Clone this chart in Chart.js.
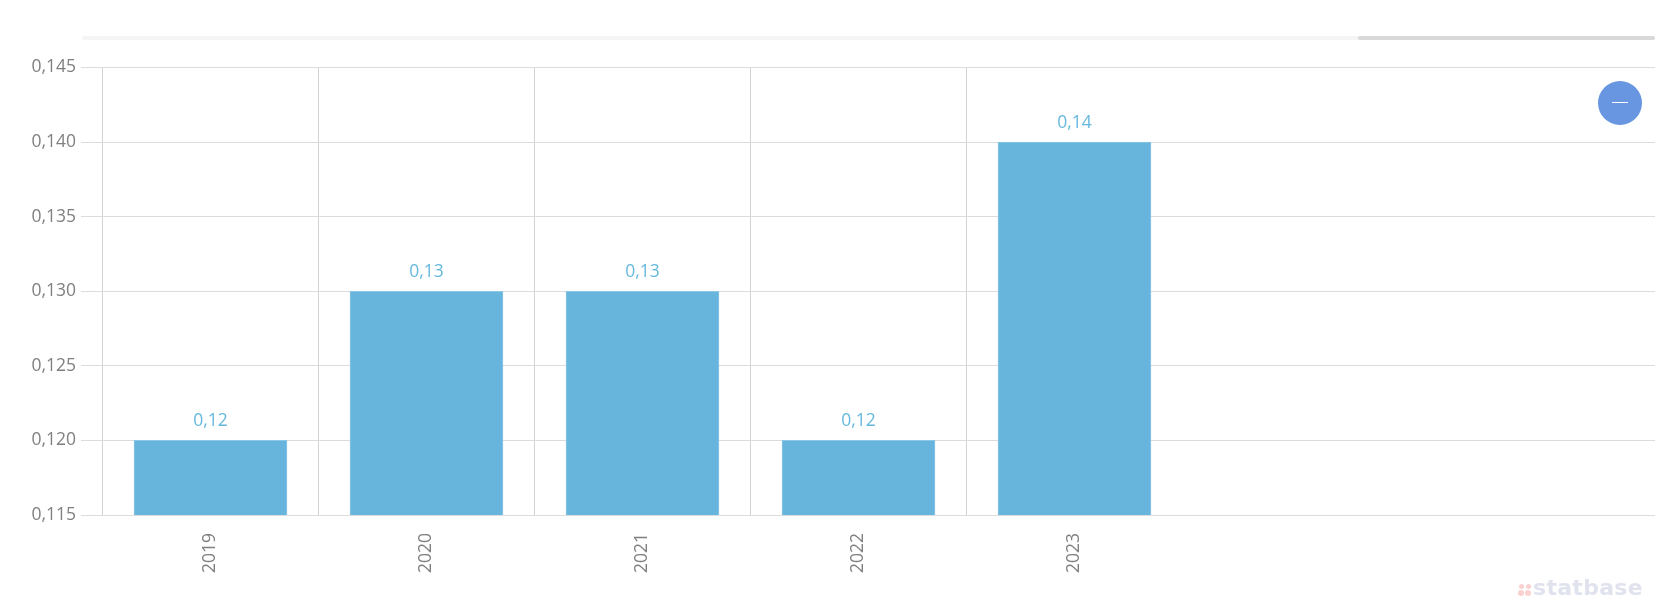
<!DOCTYPE html>
<html>
<head>
<meta charset="utf-8">
<title>Chart</title>
<script src="https://cdn.jsdelivr.net/npm/chart.js@4"></script>
<style>
html, body { margin: 0; padding: 0; background: #fff; overflow: hidden; }
#wrap { position: relative; width: 1680px; height: 600px; }
#scroll { position: absolute; left: 82px; top: 36px; width: 1573px; height: 4px; background: #f5f5f5; border-radius: 2px; }
#thumb { position: absolute; left: 1276px; top: 0; width: 297px; height: 4px; background: #d9d9d9; border-radius: 2px; }
#btn { position: absolute; left: 1598px; top: 80.5px; width: 44px; height: 44px; border-radius: 50%; background: #6896e0; }
#btn span { position: absolute; left: 14px; top: 21.5px; width: 16px; height: 1px; background: #fff; }
#logo { position: absolute; left: 1533px; top: 575px; font: bold 22px "DejaVu Sans"; letter-spacing: 0.3px; color: #e0e3ee; }
.dot { position: absolute; border-radius: 50%; background: #fbd0d0; }
</style>
</head>
<body>
<div id="wrap">
  <canvas id="chart" width="1680" height="600"></canvas>
  <div id="scroll"><div id="thumb"></div></div>
  <div id="btn"><span></span></div>
  <div class="dot" style="left:1519px;top:584px;width:5px;height:5px"></div>
  <div class="dot" style="left:1526px;top:584px;width:5px;height:5px"></div>
  <div class="dot" style="left:1518px;top:590px;width:6px;height:6px"></div>
  <div class="dot" style="left:1525px;top:590px;width:6px;height:6px"></div>
  <div id="logo">statbase</div>
</div>
<script>
var years = ["2019", "2020", "2021", "2022", "2023"];
var values = [0.12, 0.13, 0.13, 0.12, 0.14];
var yMin = 0.115;
var yMax = 0.145;
var yStep = 0.005;

var fontFamily = '"Open Sans", sans-serif';

function comma(v, digits) {
	return v.toFixed(digits).replace(".", ",");
}

// value labels above the bars
var barLabels = {
	id: "barLabels",
	afterDatasetsDraw: function(chart) {
		var ctx = chart.ctx;
		var bars = chart.getDatasetMeta(0).data;
		ctx.save();
		ctx.font = "17.5px " + fontFamily;
		ctx.fillStyle = "#66b8de";
		ctx.textAlign = "center";
		ctx.textBaseline = "alphabetic";
		for (var i = 0; i < bars.length; i++) {
			ctx.fillText(comma(values[i], 2), bars[i].x, bars[i].y - 14);
		}
		ctx.restore();
	}
};

var chartEl = document.getElementById("chart");
var myChart = new Chart(chartEl, {
	type: "bar",
	data: {
		datasets: [{
			data: years.map(function(y, i) { return { x: i, y: values[i] }; }),
			backgroundColor: "#67b5dd",
			borderColor: "#8cc8e6",
			borderWidth: 1,
			barThickness: 153
		}]
	},
	options: {
		responsive: false,
		animation: false,
		layout: { padding: { top: 67.5, right: 25, left: 0, bottom: 0 } },
		plugins: { legend: { display: false }, tooltip: { enabled: false } },
		scales: {
			x: {
				type: "linear",
				offset: false,
				min: -0.5,
				max: 6.6875,
				border: { display: false },
				afterBuildTicks: function(scale) {
					scale.ticks = years.map(function(y, i) { return { value: i }; });
				},
				afterFit: function(scale) { scale.height = 85; },
				grid: {
					offset: true,
					drawTicks: false,
					color: function(c) { return c.index < years.length ? "#d2d2d2" : "rgba(0,0,0,0)"; }
				},
				ticks: {
					autoSkip: false,
					minRotation: 90,
					maxRotation: 90,
					padding: 18,
					color: "#808080",
					font: { family: fontFamily, size: 17.5 },
					callback: function(v) { return years[v]; }
				}
			},
			y: {
				min: yMin,
				max: yMax,
				border: { display: false },
				afterFit: function(scale) { scale.width = 102.5; },
				grid: { color: "#dcdcdc", tickLength: 21.5, tickColor: "#dcdcdc" },
				ticks: {
					stepSize: yStep,
					padding: 5,
					color: "#808080",
					font: { family: fontFamily, size: 17.5 },
					callback: function(v) { return comma(v, 3); }
				}
			}
		}
	},
	plugins: [barLabels]
});
</script>
</body>
</html>
